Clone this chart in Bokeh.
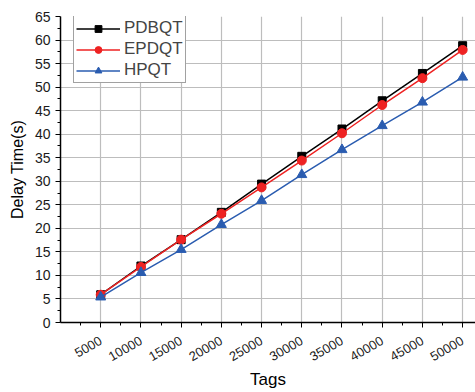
import math
from bokeh.plotting import figure
from bokeh.models import Range1d, FixedTicker, Legend, LegendItem
from bokeh.embed import file_html
from bokeh.resources import INLINE

tags = [5000, 10000, 15000, 20000, 25000, 30000, 35000, 40000, 45000, 50000]
pdbqt = [5.9, 12.0, 17.6, 23.4, 29.4, 35.3, 41.1, 47.1, 52.9, 58.8]
epdqt = [5.9, 11.8, 17.6, 23.1, 28.7, 34.4, 40.2, 46.2, 51.9, 57.9]
hpqt = [5.4, 10.6, 15.5, 20.8, 25.9, 31.4, 36.7, 41.8, 46.8, 52.1]
y_ticks = list(range(0, 70, 5))

FONT = "Liberation Sans"

p = figure(width=475, height=392, output_backend="svg", toolbar_location=None,
           x_range=Range1d(0, 51600), y_range=Range1d(0, 65),
           min_border_left=60, min_border_right=0, min_border_top=16, min_border_bottom=70)
p.outline_line_color = None
p.background_fill_color = "white"

p.xaxis.ticker = FixedTicker(ticks=tags, minor_ticks=[2500 + 5000 * i for i in range(11)])
p.yaxis.ticker = FixedTicker(ticks=y_ticks, minor_ticks=[2.5 + 5 * i for i in range(13)])
for ax in (p.xaxis[0], p.yaxis[0]):
    ax.axis_line_color = "black"
    ax.axis_line_width = 1.5
    ax.major_tick_line_color = "black"
    ax.minor_tick_line_color = "black"
    ax.major_tick_out = 5
    ax.major_tick_in = 0
    ax.minor_tick_out = 3
    ax.minor_tick_in = 0
    ax.major_label_text_font = FONT
    ax.major_label_text_color = "#1a1a1a"
    ax.axis_label_text_font = FONT
    ax.axis_label_text_font_style = "normal"
    ax.axis_label_text_color = "black"
p.xaxis.major_label_text_font_size = "13px"
p.yaxis.major_label_text_font_size = "14px"
p.xaxis.axis_label_text_font_size = "17px"
p.yaxis.axis_label_text_font_size = "16px"
p.xaxis.major_label_orientation = math.pi / 6
p.xaxis.major_label_standoff = 12
p.yaxis.major_label_standoff = 5
p.xaxis.axis_label = "Tags"
p.yaxis.axis_label = "Delay Time(s)"
p.xaxis.axis_label_standoff = 2
p.yaxis.axis_label_standoff = 6

p.xgrid.ticker = FixedTicker(ticks=tags)
p.ygrid.ticker = FixedTicker(ticks=y_ticks)
p.grid.grid_line_color = "#bdbdbd"
p.grid.grid_line_width = 1.2

l1 = p.line(tags, pdbqt, color="black", line_width=1.5)
m1 = p.scatter(tags, pdbqt, marker="square", size=8, color="black")
l2 = p.line(tags, epdqt, color="#ee2222", line_width=1.5)
m2 = p.scatter(tags, epdqt, marker="circle", size=9, color="#ee2222")
l3 = p.line(tags, hpqt, color="#2a5cb0", line_width=1.5)
m3 = p.scatter(tags, hpqt, marker="triangle", size=10, color="#2a5cb0")

legend = Legend(items=[
    LegendItem(label="PDBQT", renderers=[l1, m1]),
    LegendItem(label="EPDQT", renderers=[l2, m2]),
    LegendItem(label="HPQT", renderers=[l3, m3]),
], location=(13, 239))
legend.label_text_font = FONT
legend.label_text_font_size = "17px"
legend.border_line_color = "#444444"
legend.border_line_width = 1
legend.glyph_width = 44
legend.glyph_height = 17
legend.label_height = 17
legend.spacing = 1
legend.padding = 2
legend.margin = 0
legend.label_standoff = 4
legend.background_fill_alpha = 1
p.add_layout(legend)

open("out.html", "w").write(file_html(p, INLINE))
